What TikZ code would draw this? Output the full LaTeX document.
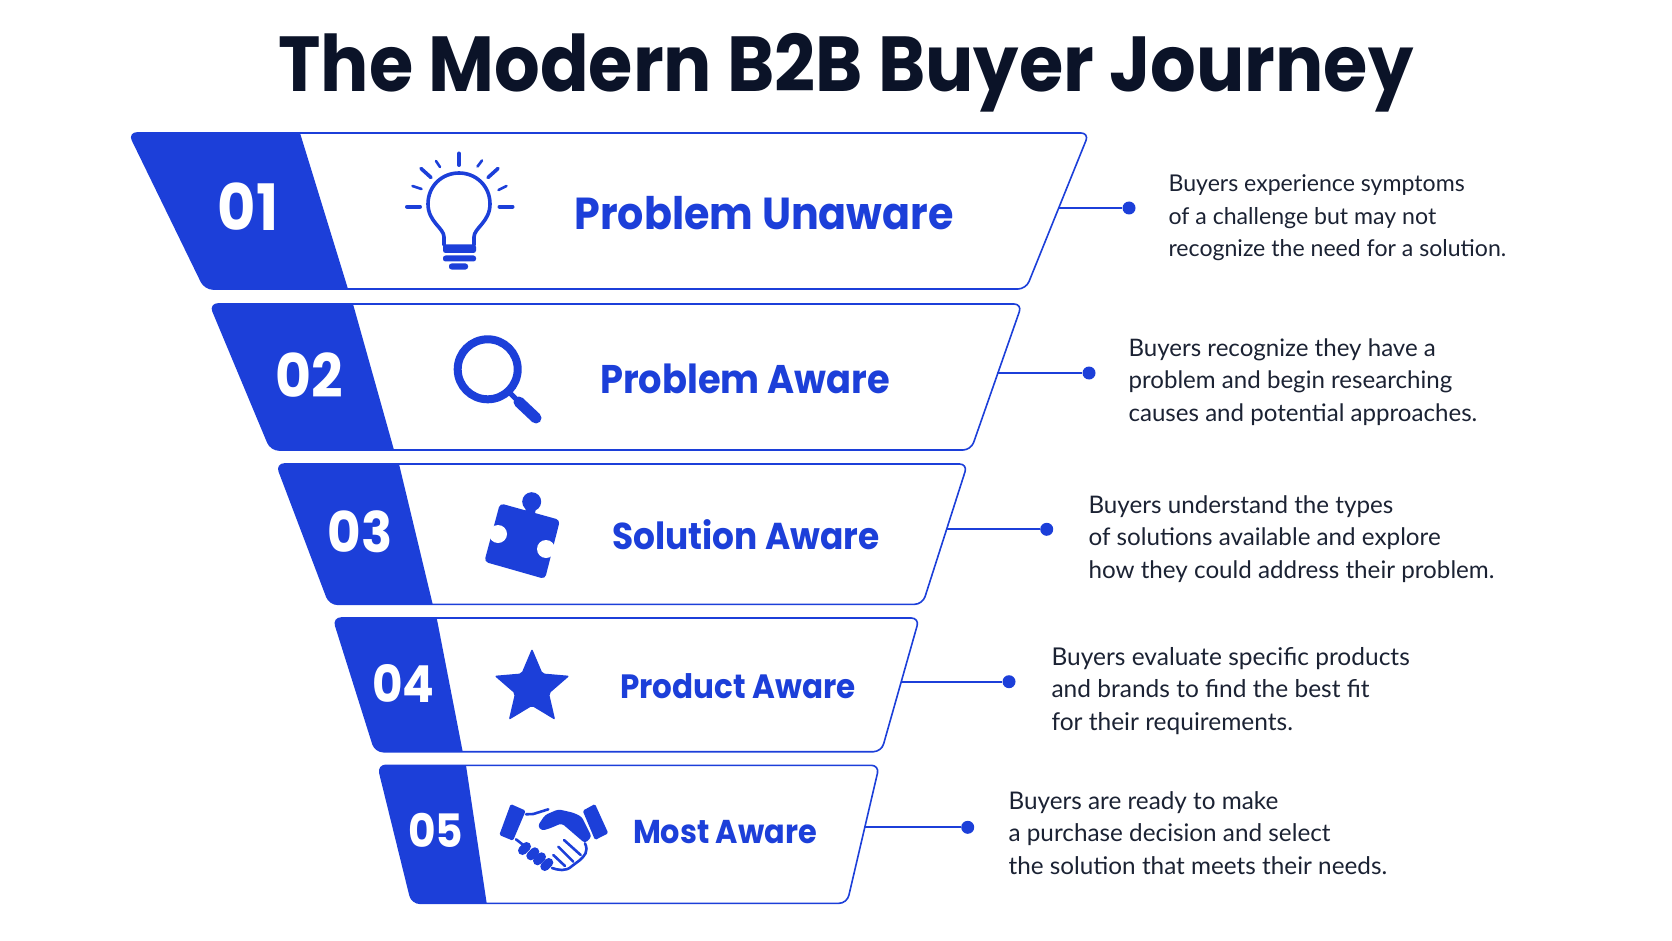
\documentclass[tikz,border=0pt]{standalone}
\usepackage{fontspec}
\setmainfont{Lato}
\newfontfamily\headfont[FakeStretch=0.92]{Poppins}
\usetikzlibrary{shapes.geometric}
\definecolor{bandblue}{HTML}{1C3FD9}
\definecolor{titleink}{HTML}{0B1328}
\definecolor{bodyink}{HTML}{1B2233}
\tikzset{
  outline/.style={draw=bandblue, line width=1.6, fill=white, rounded corners=8},
  leadline/.style={draw=bandblue, line width=1.8},
  dotmark/.style={circle, fill=bandblue, inner sep=0, minimum size=13},
  numtext/.style={text=white, font=\headfont\bfseries\fontsize{#1}{#1}\selectfont},
  nametext/.style={text=bandblue, font=\headfont\bfseries\fontsize{#1}{#1}\selectfont},
  desctext/.style={text=bodyink, anchor=west, align=left, font=\fontsize{#1}{32.5}\selectfont},
  iconline/.style={draw=bandblue, line cap=round},
  fingerline/.style={draw=bandblue, line width=2.6, line cap=round, line join=round},
}

\begin{document}
\begin{tikzpicture}[x=1pt,y=-1pt]
\useasboundingbox (0,0) rectangle (1672,941);

% title
\node[text=titleink, font=\headfont\bfseries\fontsize{78}{80}\selectfont] (title) at (846,73) {The Modern B2B Buyer Journey};

% band 1
\draw[outline] (129,133) -- (1089,133) -- (1026,289) -- (205,289) -- cycle;
\fill[bandblue] (300,133) [rounded corners=8] -- (129,133) -- (205,289) [sharp corners] -- (348,289) -- cycle;
\node[numtext=64] (num1) at (248,207) {01};
\node[nametext=44.8] (name1) at (764,213) {Problem Unaware};
\coordinate (edge1) at (1059,208);
\node[dotmark] (dot1) at (1129,208) {};
\draw[leadline] (edge1) -- (dot1);
\node[desctext=23.1] (desc1) at (1165,218) {Buyers experience symptoms\\of a challenge but may not\\recognize the need for a solution.};

% bulb
\draw[iconline, line width=3.6] (444,245) -- (444,237) .. controls (444,228) and (428,222) .. (428,204) .. controls (428,186) and (442,173) .. (459,173) .. controls (476,173) and (490,186) .. (490,204) .. controls (490,222) and (474,228) .. (474,237) -- (474,245);
\fill[bandblue, rounded corners=2.5] (443,244.5) rectangle (476,253);
\fill[bandblue, rounded corners=2.5] (443,255.5) rectangle (476,261.5);
\fill[bandblue, rounded corners=2.5] (449,263.5) rectangle (468,269.5);
\draw[iconline, line width=4] (459,153.5) -- (459,165);
\draw[iconline, line width=3.6] (421,168.5) -- (431,177.5);
\draw[iconline, line width=3.6] (498,168.5) -- (488,177.5);
\draw[iconline, line width=2.6] (436,161) -- (440,167);
\draw[iconline, line width=2.6] (482,160.5) -- (477.5,166.5);
\draw[iconline, line width=2.6] (412.5,186) -- (421.5,189);
\draw[iconline, line width=2.6] (506.5,186) -- (498.5,190);
\draw[iconline, line width=4] (407,206.7) -- (420,206.7);
\draw[iconline, line width=4] (499.5,206.7) -- (512.5,206.7);

% band 2
\draw[outline] (210,304) -- (1022,304) -- (971,450) -- (271,450) -- cycle;
\fill[bandblue] (353,304) [rounded corners=8] -- (210,304) -- (271,450) [sharp corners] -- (394,450) -- cycle;
\node[numtext=60] (num2) at (309,375) {02};
\node[nametext=40] (name2) at (745,379) {Problem Aware};
\coordinate (edge2) at (997,373);
\node[dotmark] (dot2) at (1089,373) {};
\draw[leadline] (edge2) -- (dot2);
\node[desctext=24.1] (desc2) at (1125,382) {Buyers recognize they have a\\problem and begin researching\\causes and potential approaches.};

% magnifier
\draw[bandblue, line width=8] (487.7,369.3) circle (30);
\draw[iconline, line width=5] (508,391) -- (518,401);
\draw[iconline, line width=11] (519,402) -- (536,418);

% band 3
\draw[outline] (276.5,464) -- (967.5,464) -- (922.6,604.3) -- (329.7,604.3) -- cycle;
\fill[bandblue] (399,464) [rounded corners=8] -- (276.5,464) -- (329.7,604.3) [sharp corners] -- (432.7,604.3) -- cycle;
\node[numtext=56] (num3) at (360,532) {03};
\node[nametext=37.4] (name3) at (746,535) {Solution Aware};
\coordinate (edge3) at (946.7,529.3);
\node[dotmark] (dot3) at (1046.7,529.3) {};
\draw[leadline] (edge3) -- (dot3);
\node[desctext=24.2] (desc3) at (1085,539) {Buyers understand the types\\of solutions available and explore\\how they could address their problem.};

% puzzle piece
\fill[bandblue, rounded corners=4] (500,503.3) -- (560,520) -- (545,579) -- (484.3,561.7) -- cycle;
\fill[bandblue] (531.7,501.7) circle (9.5);
\draw[bandblue, line width=10] (531.7,503) -- (530,513);
\fill[white] (498,534) circle (9);
\draw[white, line width=10] (498,534) -- (486,531);
\fill[white] (546,549) circle (9);
\draw[white, line width=10] (546,549) -- (559,552);

% band 4
\draw[outline] (333.3,618) -- (919.3,618) -- (881.4,751.7) -- (375.4,751.7) -- cycle;
\fill[bandblue] (436.7,618) [rounded corners=8] -- (333.3,618) -- (375.4,751.7) [sharp corners] -- (462.7,751.7) -- cycle;
\node[numtext=51] (num4) at (403.3,683) {04};
\node[nametext=33.7] (name4) at (738,686) {Product Aware};
\coordinate (edge4) at (901.7,681.7);
\node[dotmark] (dot4) at (1009,681.7) {};
\draw[leadline] (edge4) -- (dot4);
\node[desctext=24.5] (desc4) at (1048,691) {Buyers evaluate specific products\\and brands to find the best fit\\for their requirements.};

% star
\node[star, star points=5, star point ratio=2.2, fill=bandblue, inner sep=0, minimum size=79, rounded corners=2] (staricon) at (532,688) {};

% band 5
\draw[outline] (378,765.3) -- (879.3,765.3) -- (847,903.3) -- (412,903.3) -- cycle;
\fill[bandblue] (466,765.3) [rounded corners=8] -- (378,765.3) -- (412,903.3) [sharp corners] -- (486.7,903.3) -- cycle;
\node[numtext=46] (num5) at (435.7,830.7) {05};
\node[nametext=33] (name5) at (725,832) {Most Aware};
\coordinate (edge5) at (865,827.3);
\node[dotmark] (dot5) at (967.7,827.3) {};
\draw[leadline] (edge5) -- (dot5);
\node[desctext=24.3] (desc5) at (1005,833) {Buyers are ready to make\\a purchase decision and select\\the solution that meets their needs.};

% handshake
\fill[bandblue, rounded corners=1.5] (510.7,804) -- (525.7,810.7) -- (513,840.7) -- (499.3,835) -- cycle;
\fill[bandblue, rounded corners=1.5] (595,804) -- (608.3,833.3) -- (595,840) -- (582.7,810.7) -- cycle;
\fill[bandblue, rounded corners=3] (537.7,826) -- (545,815) -- (558.3,809.3) -- (573.3,812.7) -- (581.7,816.7) -- (591.7,836.7) -- (585,843.3) -- (561.7,823.3) -- (550,828.3) -- (541.7,830.7) -- cycle;
\draw[fingerline] (526,814.3) -- (533.3,814) -- (548.3,809.3);
\draw[fingerline] (516,839.3) -- (523.3,845);
\draw[iconline, line width=9] (522.5,850.5) -- (526.5,846.5);
\draw[iconline, line width=9] (530.8,855.8) -- (534.8,851.8);
\draw[iconline, line width=9] (537.5,860.8) -- (541.5,856.8);
\draw[iconline, line width=9] (544.8,866.5) -- (548.8,862.5);
\draw[fingerline] (585,843.3) .. controls (589,852) and (584,856) .. (580,860) -- (572,866) .. controls (566,872) and (558,870) .. (552,868);
\draw[fingerline] (564,840) -- (580.7,855);
\draw[fingerline] (558.3,846.7) -- (573.3,861.7);
\draw[fingerline] (553.3,855) -- (565,866);

\end{tikzpicture}
\end{document}
